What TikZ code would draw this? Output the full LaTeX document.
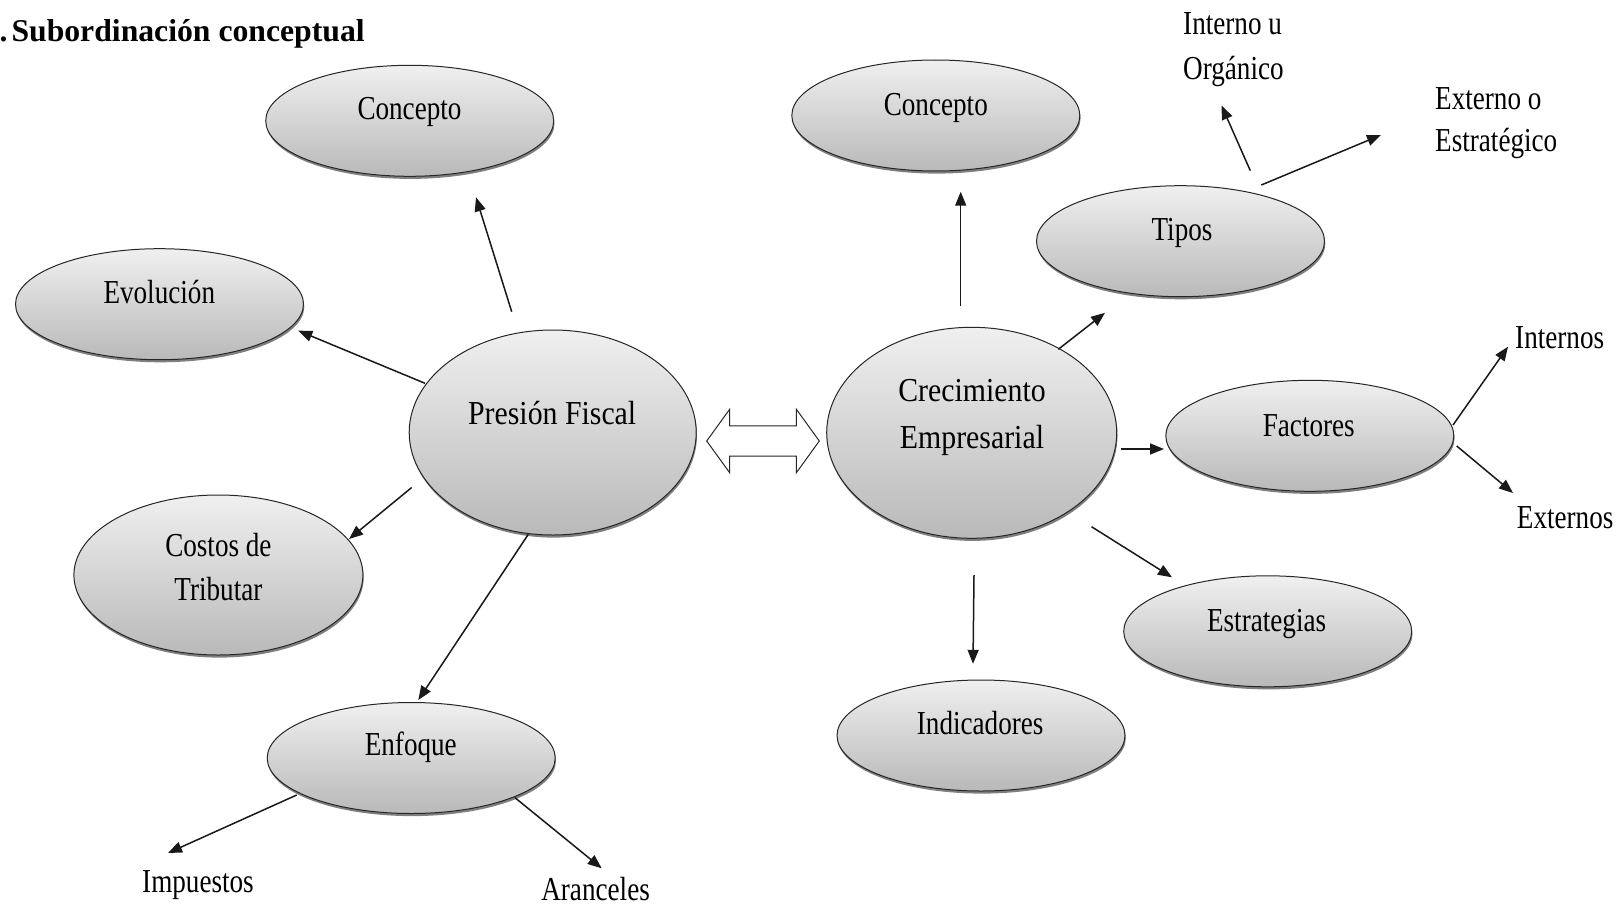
\documentclass[tikz,border=0pt]{standalone}
\usepackage{fontspec}
\setmainfont{Liberation Serif}
\newfontfamily\narrowserif[FakeStretch=0.81]{Liberation Serif}
\newfontfamily\wideserif[FakeStretch=0.89]{Liberation Serif}
\usetikzlibrary{arrows.meta,shadows,shapes.geometric}

\begin{document}
\begin{tikzpicture}[x=1pt,y=-1pt,
  bubble/.style={ellipse, draw=black!85, line width=1pt,
    top color=gray!12, bottom color=gray!55,
    minimum width=288pt, minimum height=111pt, inner sep=0pt, outer sep=0pt,
    drop shadow={shadow xshift=0.8pt, shadow yshift=-2.6pt, opacity=0.5, fill=black}},
  word/.style={inner sep=0pt, anchor=base, font=\narrowserif\fontsize{33.5}{40}\selectfont},
  wordL/.style={word, anchor=base west},
  bigword/.style={inner sep=0pt, anchor=base, font=\wideserif\fontsize{33.5}{40}\selectfont},
  arr/.style={draw=black!90, line width=1.5pt, -{Triangle[length=14pt,width=11pt]}},
  blockarrow/.style={draw=black!85, line width=1pt, fill=white, line join=miter}
]
\fill[white] (0,0) rectangle (1616,907);
\useasboundingbox (0,0) rectangle (1616,907);

% heading
\node[inner sep=0pt, anchor=base west, font=\bfseries\fontsize{31.7}{38}\selectfont]
  (title) at (-0.6,41.7) {.\kern4pt Subordinación conceptual};

% ellipses
\node[bubble] (cL) at (409.7,120.8) {};
\node[bubble] (ev) at (159.5,304.2) {};
\node[bubble, minimum width=287pt, minimum height=205pt] (pf) at (552.7,432.5) {};
\node[bubble, minimum width=289pt, minimum height=160pt] (ct) at (218.4,575) {};
\node[bubble] (en) at (411.2,758) {};
\node[bubble] (cR) at (935.8,115.5) {};
\node[bubble, minimum width=290pt, minimum height=211pt] (ce) at (971.7,432.8) {};
\node[bubble] (ti) at (1180.5,241.2) {};
\node[bubble] (fa) at (1309.8,435.8) {};
\node[bubble] (es) at (1267.7,631.3) {};
\node[bubble] (ind) at (981,735.5) {};

% texts inside the ellipses
\node[word] (t-cL) at (409.5,119.3) {Concepto};
\node[word] (t-ev) at (159.3,303.3) {Evolución};
\node[bigword] (t-pf) at (552.2,424) {Presión Fiscal};
\node[word] (t-ct1) at (218.4,556.7) {Costos de};
\node[word] (t-ct2) at (218.4,600) {Tributar};
\node[word] (t-en) at (410.8,755) {Enfoque};
\node[word] (t-cR) at (935.8,115) {Concepto};
\node[bigword] (t-ce1) at (972,401.7) {Crecimiento};
\node[bigword] (t-ce2) at (972,448.3) {Empresarial};
\node[word] (t-ti) at (1182,240) {Tipos};
\node[word] (t-fa) at (1308.8,436) {Factores};
\node[word] (t-es) at (1266.6,631.7) {Estrategias};
\node[word] (t-ind) at (980.2,734) {Indicadores};

% free labels
\node[wordL] (int1) at (1183,35) {Interno u};
\node[wordL] (int2) at (1183,79) {Orgánico};
\node[wordL] (ext1) at (1435,109) {Externo o};
\node[wordL] (ext2) at (1435,151) {Estratégico};
\node[wordL] (fint) at (1515,348.3) {Internos};
\node[wordL] (fext) at (1516.7,528.3) {Externos};
\node[word] (imp) at (198,892) {Impuestos};
\node[word] (ara) at (595.6,900.5) {Aranceles};

% left branch
\draw[arr] ([shift={(-41,-120.8)}]pf.center) -- ([shift={(66.3,76.5)}]cL.center);
\draw[arr] ([shift={(-127.7,-49.2)}]pf.center) -- ([shift={(138.8,26.5)}]ev.center);
\draw[arr] ([shift={(-141,55)}]pf.center) -- ([shift={(130.6,-36)}]ct.center);
\draw[arr] ([shift={(-24.4,101.8)}]pf.center) -- ([shift={(7.1,-58)}]en.center);
\draw[arr] ([shift={(-114.5,37)}]en.center) -- ([shift={(-30,-39)}]imp.base);
\draw[arr] ([shift={(103.8,39.7)}]en.center) -- ([shift={(6.1,-32.2)}]ara.base);

% link between the two central ideas
\coordinate (link) at (763,441);
\draw[blockarrow, shift={(link)}]
  (-56.3,0) -- (-33.3,-31.8) -- (-33.3,-15.2) -- (33.3,-15.2) -- (33.3,-31.8)
  -- (56.3,0) -- (33.3,31.8) -- (33.3,15.2) -- (-33.3,15.2) -- (-33.3,31.8) -- cycle;

% right branch
\draw[arr] ([shift={(-11,-126.8)}]ce.center) -- ([shift={(24.9,76.2)}]cR.center);
\draw[arr] ([shift={(86.6,-83.5)}]ce.center) -- ([shift={(-75.5,71.6)}]ti.center);
\draw[arr] ([shift={(69.8,-70.5)}]ti.center) -- ([shift={(38.5,26.5)}]int2.base west);
\draw[arr] ([shift={(80.8,-56.2)}]ti.center) -- ([shift={(-54,-16)}]ext2.base west);
\draw[arr] ([shift={(149.3,16.2)}]ce.center) -- ([shift={(-145.8,13.2)}]fa.center);
\draw[arr] ([shift={(143.2,-10.8)}]fa.center) -- ([shift={(-7,-1.6)}]fint.base west);
\draw[arr] ([shift={(146.9,10.2)}]fa.center) -- ([shift={(-3.7,-35.3)}]fext.base west);
\draw[arr] ([shift={(119.8,93.9)}]ce.center) -- ([shift={(-95.7,-54)}]es.center);
\draw[arr] ([shift={(2.3,142.2)}]ce.center) -- ([shift={(-8,-71.7)}]ind.center);
\end{tikzpicture}
\end{document}
